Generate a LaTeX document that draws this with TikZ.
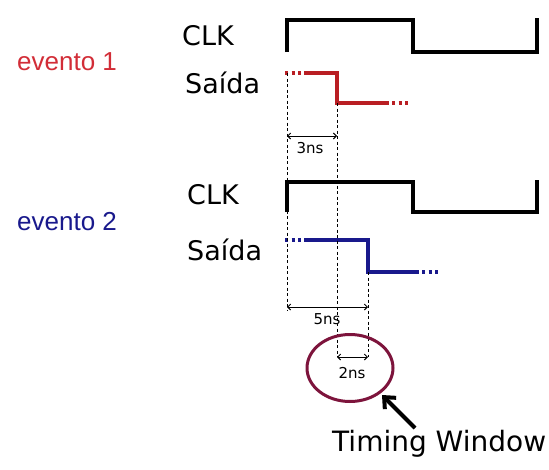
\documentclass[tikz,border=0pt]{standalone}
\usepackage{fontspec}
\setmainfont{DejaVu Sans}
\newfontfamily\eventofont{Liberation Sans}
\usetikzlibrary{arrows.meta,shapes.geometric}
\definecolor{vermelho}{RGB}{210,45,55}
\definecolor{linhaverm}{RGB}{185,30,35}
\definecolor{azul}{RGB}{25,25,140}
\definecolor{bordo}{RGB}{125,20,60}

\begin{document}
\begin{tikzpicture}[x=1pt,y=-1pt,
    clk/.style={line width=4pt},
    sig/.style={line width=3.5pt},
    pontos/.style={line width=3.5pt,dash pattern=on 3pt off 3.5pt},
    guia/.style={line width=1pt,dash pattern=on 3pt off 2.5pt},
    cota/.style={line width=1pt,{Straight Barb[length=3pt,width=6pt]}-{Straight Barb[length=3pt,width=6pt]}},
    rotulo/.style={anchor=base west,inner sep=0pt,font=\fontsize{27}{30}\selectfont},
    evento/.style={anchor=base west,inner sep=0pt,font=\eventofont\fontsize{26}{30}\selectfont},
    ns/.style={anchor=base,inner sep=0pt,font=\fontsize{15}{17}\selectfont}]
  \useasboundingbox (0,0) rectangle (549,469);

  % Labels
  \node[evento,text=vermelho] (ev1) at (17,70) {evento 1};
  \node[rotulo] (clk1) at (182,45) {CLK};
  \node[rotulo] (out1) at (185,93) {Saída};
  \node[evento,text=azul] (ev2) at (17,230) {evento 2};
  \node[rotulo] (clk2) at (187,204) {CLK};
  \node[rotulo] (out2) at (187,260) {Saída};

  % Clocks
  \draw[clk] (287,52) -- (287,20) -- (413,20) -- (413,52) -- (537,52) -- (537,18);
  \draw[clk] (287,212) -- (287,182) -- (413,182) -- (413,212) -- (537,212) -- (537,180);

  % Outputs
  \draw[pontos,linhaverm] (285,73) -- (302,73);
  \draw[sig,linhaverm] (304,73) -- (337,73) -- (337,103) -- (389,103);
  \draw[pontos,linhaverm] (392,103) -- (410,103);
  \draw[pontos,azul] (285,240) -- (302,240);
  \draw[sig,azul] (304,240) -- (368,240) -- (368,272) -- (419,272);
  \draw[pontos,azul] (422,272) -- (441,272);

  % Time marks
  \coordinate (t0) at (287,73);
  \coordinate (t1) at (337,103);
  \coordinate (t2) at (368,272);
  \coordinate (a3) at (287,136);
  \coordinate (b3) at (337,136);
  \coordinate (a5) at (287,307);
  \coordinate (b5) at (368,307);
  \coordinate (a2) at (337,357);
  \coordinate (b2) at (368,357);
  \draw[guia] (t0) -- (287,310);
  \draw[guia] (t1) -- (a2);
  \draw[guia] (t2) -- (b2);

  % Delays
  \draw[cota] (a3) -- (b3);
  \node[ns] (d3) at (310,153) {3ns};
  \draw[cota] (a5) -- (b5);
  \node[ns] (d5) at (327,324) {5ns};
  \draw[cota] (a2) -- (b2);
  \node[ns] (d2) at (352,378) {2ns};

  % Timing window
  \node[draw=bordo,line width=3pt,ellipse,minimum width=86pt,minimum height=67pt,inner sep=0pt] (janela) at (350,368) {};
  \node[anchor=base west,inner sep=0pt,font=\fontsize{28}{32}\selectfont] (tw) at (332,451) {Timing Window};
  \coordinate (cauda) at (415,428);
  \coordinate (ponta) at (382,395);
  \draw[line width=4pt,-{Straight Barb[length=9pt,width=16pt]}] (cauda) -- (ponta);

\end{tikzpicture}
\end{document}
